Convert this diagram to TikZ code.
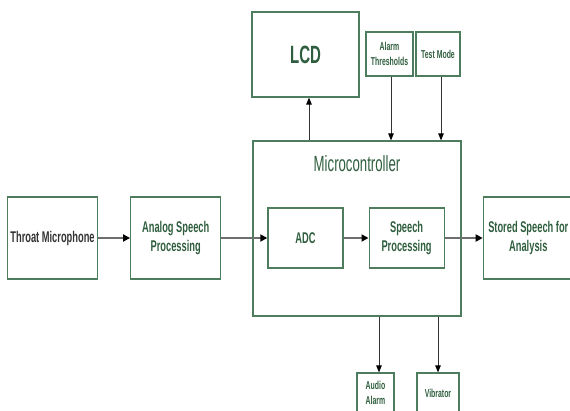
\documentclass[tikz,border=0pt]{standalone}
\usepackage{fontspec}
\setmainfont[FakeStretch=0.6]{Liberation Sans}
\usetikzlibrary{positioning,arrows.meta}
\definecolor{boxgreen}{HTML}{4E7D5E}
\definecolor{textgreen}{HTML}{2F5E3E}
\definecolor{linegray}{HTML}{6E6E6E}

\begin{document}
\begin{tikzpicture}[
    x=1pt, y=-1pt,
    node distance=32pt,
    block/.style={draw=boxgreen, line width=1.2pt, rectangle, minimum height=82pt, minimum width=90pt, align=center, text=textgreen, font=\bfseries\fontsize{15.5}{18.5}\selectfont, inner sep=2pt},
    inblock/.style={block, minimum height=60pt, minimum width=75pt},
    smallblock/.style={block, minimum height=44pt, font=\bfseries\fontsize{11.5}{14.5}\selectfont, inner sep=1pt},
    signal/.style={draw=linegray, line width=2pt, -{Triangle[length=7pt,width=7pt,color=black]}},
    control/.style={draw=black!80, line width=0.9pt, -{Triangle[length=7pt,width=5.5pt,color=black]}}
]
    \useasboundingbox (0,0) rectangle (570,410);
    \clip (0,0) rectangle (570,410);

    % Nodes
    \node[block, text=black!80] (throat) at (52.5,238) {Throat Microphone};
    \node[block, right=32pt of throat] (analog) {Analog Speech\\Processing};
    \node[inblock, right=46pt of analog] (adc) {ADC};
    \node[inblock, right=25pt of adc] (speech) {Speech\\Processing};
    \node[block, right=38pt of speech] (stored) {Stored Speech for\\Analysis};

    \node[draw=boxgreen, line width=1.2pt, minimum width=208pt, minimum height=175pt] (micro) at (357,228.5) {};
    \node[below=15pt of micro.north, inner sep=0pt, text=textgreen, font=\fontsize{22}{25}\selectfont] (mctitle) {Microcontroller};

    \node[block, minimum width=107pt, minimum height=85pt, font=\bfseries\fontsize{25}{28}\selectfont] (lcd) at (305.5,54.5) {LCD};
    \node[smallblock, minimum width=47pt] (alarm) at (389.5,54) {Alarm\\Thresholds};
    \node[smallblock, minimum width=44pt] (testmode) at (438,54) {Test Mode};

    \node[smallblock, minimum width=37pt, minimum height=40pt] (audio) at (375.5,393) {Audio\\Alarm};
    \node[smallblock, minimum width=42pt, minimum height=40pt] (vibrator) at (438,393) {Vibrator};

    % Connections
    \path[signal] (throat) -- (analog);
    \path[signal] (analog) -- (adc);
    \path[signal] (adc) -- (speech);
    \path[signal] (speech) -- (stored);

    \draw[control] ([xshift=3.5pt]lcd.south |- micro.north) -- ([xshift=3.5pt]lcd.south);
    \draw[control] ([xshift=1.5pt]alarm.south) -- ([xshift=1.5pt]alarm.south |- micro.north);
    \draw[control] ([xshift=3pt]testmode.south) -- ([xshift=3pt]testmode.south |- micro.north);
    \draw[control] ([xshift=3.5pt]audio.north |- micro.south) -- ([xshift=3.5pt]audio.north);
    \draw[control] (vibrator.north |- micro.south) -- (vibrator.north);

\end{tikzpicture}
\end{document}
